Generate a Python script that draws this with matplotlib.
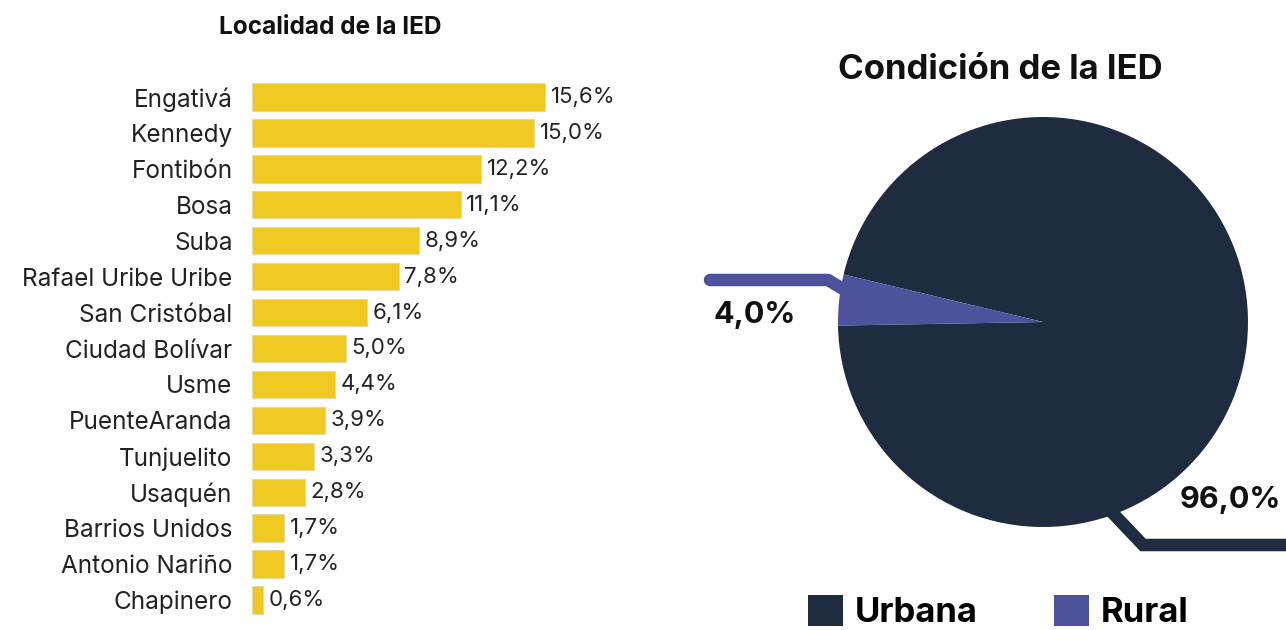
"""Localidad / condición de la IED: horizontal bars + pie, infographic style."""

import matplotlib

matplotlib.use("Agg")

import matplotlib.pyplot as plt  # noqa: E402
from matplotlib.patches import Patch  # noqa: E402

# -- Data ----------------------------------------------------------------------
localidades = [
    "Engativá", "Kennedy", "Fontibón", "Bosa", "Suba", "Rafael Uribe Uribe",
    "San Cristóbal", "Ciudad Bolívar", "Usme", "PuenteAranda", "Tunjuelito",
    "Usaquén", "Barrios Unidos", "Antonio Nariño", "Chapinero",
]
pct_localidad = [15.6, 15.0, 12.2, 11.1, 8.9, 7.8, 6.1, 5.0, 4.4, 3.9, 3.3, 2.8, 1.7, 1.7, 0.6]

condicion = ["Urbana", "Rural"]
pct_condicion = [96.0, 4.0]

# -- Style -----------------------------------------------------------------------
YELLOW = "#f0c922"
NAVY = "#1f2b3e"
PURPLE = "#4e529b"
TEXT = "#222222"
FONT = ["Inter", "DejaVu Sans"]

plt.rcParams["font.family"] = FONT

W, H = 1286, 630
fig = plt.figure(figsize=(W / 100, H / 100), dpi=100)
fig.patch.set_facecolor("white")


def px_box(x0, y0, x1, y1):
    """Pixel box (top-left origin) -> figure fraction rect."""
    return [x0 / W, (H - y1) / H, (x1 - x0) / W, (y1 - y0) / H]


# -- Bars ----------------------------------------------------------------------
step = (600 - 97) / 14
ax = fig.add_axes(px_box(252, 97 - step / 2, 252 + 18.8 * 16, 600 + step / 2))
ypos = list(range(len(localidades)))
ax.barh(ypos, pct_localidad, height=0.76, color=YELLOW, edgecolor="#e3d9a6", linewidth=0.8)
ax.set_xlim(0, 16)
ax.set_ylim(len(localidades) - 0.5, -0.5)
for y, v in zip(ypos, pct_localidad):
    ax.text(v + 0.3, y, f"{v:.1f}%".replace(".", ","), va="center", ha="left",
            fontsize=16, color=TEXT, clip_on=False)
ax.set_yticks(ypos)
ax.set_yticklabels(localidades, fontsize=17.5, color=TEXT)
ax.tick_params(axis="y", length=0, pad=14)
ax.set_xticks([])
for s in ax.spines.values():
    s.set_visible(False)

fig.text(330 / W, 1 - 28 / H, "Localidad de la IED", ha="center", va="center",
         fontsize=17.5, fontweight="bold", color="#111111")

# -- Pie -----------------------------------------------------------------------
cx, cy, r = 1043, 322, 205
pax = fig.add_axes(px_box(cx - 250, cy - 250, cx + 250, cy + 250))
pax.pie(pct_condicion, colors=[NAVY, PURPLE], startangle=181, counterclock=True,
        radius=1.0, wedgeprops=dict(linewidth=0))
lim = 250 / r
pax.set_xlim(-lim, lim)
pax.set_ylim(-lim, lim)
pax.set_aspect("equal")
pax.axis("off")


def to_pie(px, py):
    return (px - cx) / r, (cy - py) / r


# leader lines
rural_pts = [to_pie(*p) for p in [(848, 292), (828, 280), (710, 280)]]
pax.plot([p[0] for p in rural_pts], [p[1] for p in rural_pts], color=PURPLE,
         lw=9, solid_capstyle="round", solid_joinstyle="round", clip_on=False)
urb_pts = [to_pie(*p) for p in [(1105, 505), (1143, 545), (1300, 545)]]
pax.plot([p[0] for p in urb_pts], [p[1] for p in urb_pts], color=NAVY,
         lw=9, solid_capstyle="butt", solid_joinstyle="miter", clip_on=False)

tx, ty = to_pie(755, 315)
pax.text(tx, ty, f"{pct_condicion[1]:.1f}%".replace(".", ","), ha="center", va="center",
         fontsize=22, fontweight="bold", color="#111111", clip_on=False)
tx, ty = to_pie(1230, 500)
pax.text(tx, ty, f"{pct_condicion[0]:.1f}%".replace(".", ","), ha="center", va="center",
         fontsize=22, fontweight="bold", color="#111111", clip_on=False)

fig.text(1000 / W, 1 - 70 / H, "Condición de la IED", ha="center", va="center",
         fontsize=25, fontweight="bold", color="#111111")

# -- Legend ----------------------------------------------------------------------
handles = [Patch(facecolor=c, edgecolor="none") for c in (NAVY, PURPLE)]
fig.legend(handles, condicion, loc="center left", bbox_to_anchor=(808 / W, 1 - 612 / H),
           ncol=2, frameon=False, prop=dict(family=FONT, weight="bold", size=25),
           handlelength=1.0, handleheight=1.0, handletextpad=0.35, columnspacing=2.2,
           borderpad=0, borderaxespad=0)

fig.savefig("out.png", dpi=100, facecolor="white")
plt.close(fig)
